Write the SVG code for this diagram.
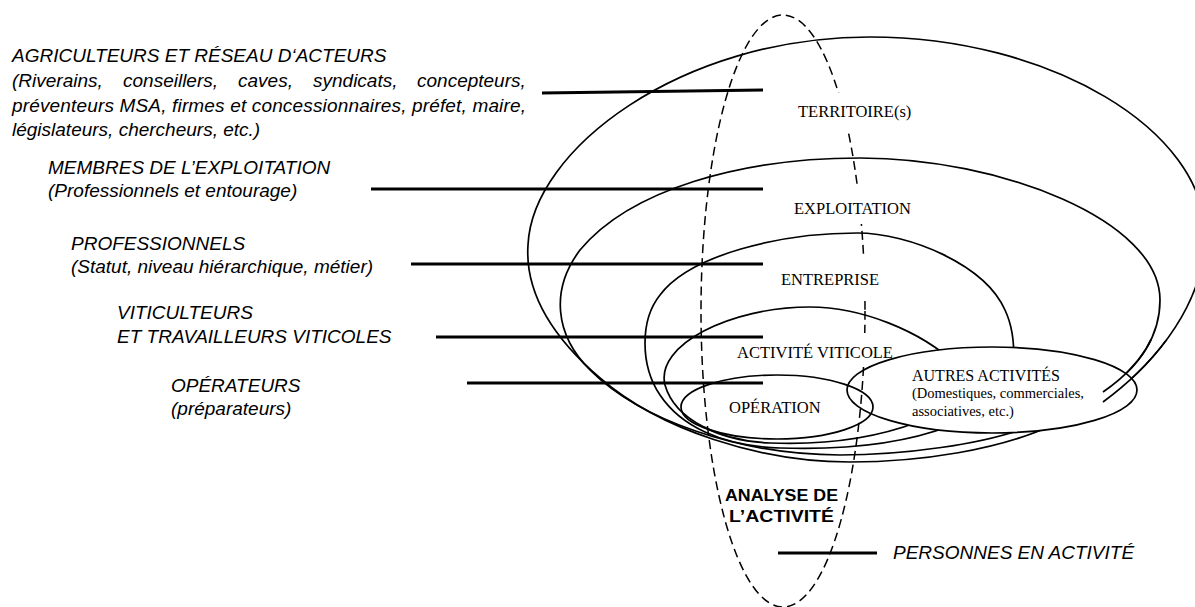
<svg xmlns="http://www.w3.org/2000/svg" width="1195" height="607" viewBox="0 0 1195 607">
<style>
.loop{fill:none;stroke:#000;stroke-width:1.7}
.lbl{font-family:"Liberation Serif","Times New Roman",serif;font-size:16.5px;fill:#000}
.small{font-family:"Liberation Serif","Times New Roman",serif;font-size:14.5px;fill:#000}
.side{font-family:"Liberation Sans",Arial,sans-serif;font-size:19px;font-style:italic;fill:#000}
.bold{font-family:"Liberation Sans",Arial,sans-serif;font-size:17px;font-weight:bold;fill:#000}
.conn{stroke:#000;stroke-width:3;fill:none}
.dash{fill:none;stroke:#000;stroke-width:1.5;stroke-dasharray:9 5}
</style>
<defs>
<mask id="dashMask" maskUnits="userSpaceOnUse" x="0" y="0" width="1195" height="607">
<rect x="0" y="0" width="1195" height="607" fill="#fff"/>
<rect x="815" y="93" width="70" height="40" fill="#000"/>
<rect x="815" y="184" width="70" height="40" fill="#000"/>
<rect x="815" y="258" width="70" height="38" fill="#000"/>
<rect x="815" y="333" width="70" height="34" fill="#000"/>
</mask>
<clipPath id="tailClip"><rect x="1098" y="340" width="100" height="80"/></clipPath>
</defs>
<rect width="1195" height="607" fill="#fff"/>

<g id="territoire">
<path id="loopT" class="loop" d="M1055,424 C1000,450 920,462 850,462 C760,462 660,430 600,378 C550,335 525,290 528,245 C532,150 680,37 870,37 C1050,37 1205,130 1205,235 C1205,300 1160,360 1103,402"/>
<text class="lbl" x="798" y="117">TERRITOIRE(s)</text>
</g>
<g id="exploitation">
<path id="loopX" class="loop" d="M1033,425 C985,445 900,455 840,455 C740,455 640,420 590,370 C555,335 550,290 580,250 C630,190 740,158 860,158 C1000,158 1160,220 1160,300 C1160,340 1135,370 1103,392"/>
<text class="lbl" x="794" y="214">EXPLOITATION</text>
</g>
<g id="entreprise">
<path class="loop" d="M950,426 C900,445 840,450 780,448 C720,446 680,425 660,395 C640,365 640,320 660,295 C690,255 780,233 857,233 C910,233 985,265 1005,310 C1012,325 1014,340 1014,362"/>
<text class="lbl" x="781" y="285">ENTREPRISE</text>
</g>
<g id="activite-viticole">
<path class="loop" d="M918,422 C870,440 820,445 770,443 C720,441 675,420 665,385 C655,345 730,307 810,307 C860,307 920,330 957,365"/>
<text class="lbl" x="737" y="358">ACTIVITÉ VITICOLE</text>
</g>
<g id="autres-activites">
<ellipse cx="992" cy="390" rx="145" ry="43" fill="#fff" stroke="#000" stroke-width="1.7"/>
<text class="lbl" x="912" y="381" style="font-size:16px">AUTRES ACTIVITÉS</text>
<text class="small" x="912" y="398">(Domestiques, commerciales,</text>
<text class="small" x="912" y="416">associatives, etc.)</text>
</g>
<g id="tails" clip-path="url(#tailClip)">
<use href="#loopT"/>
<use href="#loopX"/>
</g>
<g id="analyse-activite">
<ellipse class="dash" cx="783" cy="311" rx="82" ry="296" mask="url(#dashMask)"/>
<text class="bold" x="725" y="501" textLength="113" lengthAdjust="spacingAndGlyphs">ANALYSE DE</text>
<text class="bold" x="729" y="522" textLength="105" lengthAdjust="spacingAndGlyphs">L’ACTIVITÉ</text>
</g>
<g id="operation">
<ellipse cx="777" cy="407" rx="96" ry="32" fill="none" stroke="#000" stroke-width="1.7"/>
<text class="lbl" x="729" y="413">OPÉRATION</text>
</g>

<g id="connectors">
<line class="conn" x1="542" y1="93" x2="763" y2="90"/>
<line class="conn" x1="371" y1="189" x2="763" y2="189"/>
<line class="conn" x1="411" y1="264" x2="763" y2="264"/>
<line class="conn" x1="436" y1="337" x2="763" y2="337"/>
<line class="conn" x1="467" y1="383" x2="763" y2="383"/>
<line class="conn" x1="778" y1="553" x2="877" y2="553"/>
</g>

<g id="agriculteurs">
<text class="side" x="12" y="62">AGRICULTEURS ET RÉSEAU D‘ACTEURS</text>
<text class="side" y="87"><tspan x="12">(Riverains,</tspan><tspan x="123">conseillers,</tspan><tspan x="238">caves,</tspan><tspan x="313">syndicats,</tspan><tspan x="417">concepteurs,</tspan></text>
<text class="side" x="12" y="112" textLength="514" lengthAdjust="spacing">préventeurs MSA, firmes et concessionnaires, préfet, maire,</text>
<text class="side" x="12" y="136">législateurs, chercheurs, etc.)</text>
</g>
<g id="membres">
<text class="side" x="48" y="174">MEMBRES DE L’EXPLOITATION</text>
<text class="side" x="48" y="197">(Professionnels et entourage)</text>
</g>
<g id="professionnels">
<text class="side" x="71" y="250">PROFESSIONNELS</text>
<text class="side" x="71" y="273">(Statut, niveau hiérarchique, métier)</text>
</g>
<g id="viticulteurs">
<text class="side" x="117" y="319">VITICULTEURS</text>
<text class="side" x="117" y="343">ET TRAVAILLEURS VITICOLES</text>
</g>
<g id="operateurs">
<text class="side" x="171" y="392">OPÉRATEURS</text>
<text class="side" x="171" y="415">(préparateurs)</text>
</g>
<g id="personnes">
<text class="side" x="893" y="559">PERSONNES EN ACTIVITÉ</text>
</g>
</svg>
